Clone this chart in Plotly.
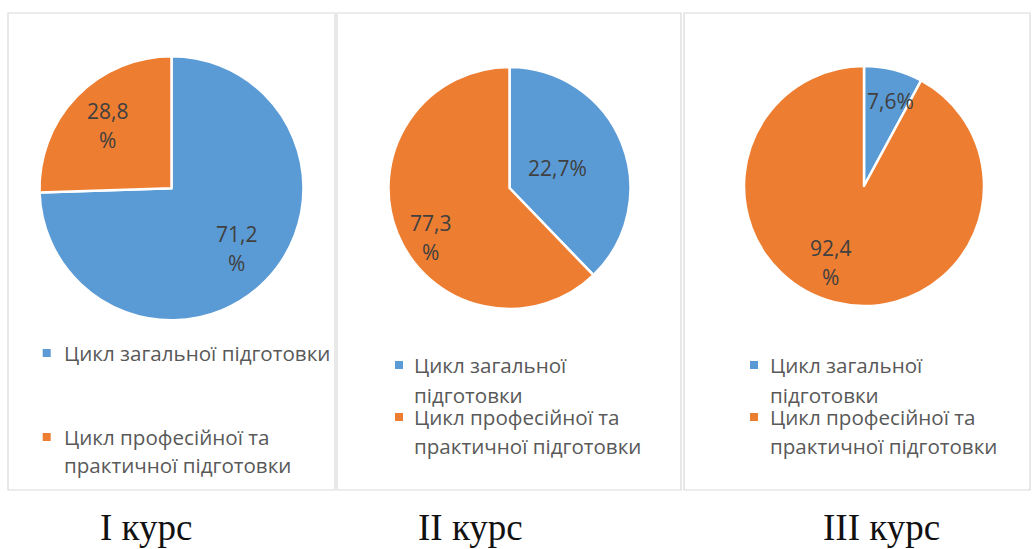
import math
import textwrap
import plotly.graph_objects as go

# ---------------- data ----------------
categories = ["Цикл загальної підготовки", "Цикл професійної та практичної підготовки"]
course_titles = ["I курс", "II курс", "III курс"]
# slice shares as drawn in the picture (angles)
shares_course1 = [74.5, 25.5]
shares_course2 = [37.8, 62.2]
shares_course3 = [7.9, 92.1]
# data labels as printed on the picture
labels_course1 = ["71,2\n%", "28,8\n%"]
labels_course2 = ["22,7%", "77,3\n%"]
labels_course3 = ["7,6%", "92,4\n%"]

shares = [shares_course1, shares_course2, shares_course3]
label_texts = [labels_course1, labels_course2, labels_course3]

# ---------------- layout constants ----------------
W, H = 1032, 549
colors = ["#5B9BD5", "#ED7D31"]
pie_centers = [(171.5, 188.3), (509.5, 188.0), (864.0, 186.0)]
pie_radius = [132, 121, 120]
panels = [(8, 13, 335, 490), (337, 13, 681, 490), (684, 13, 1030, 490)]
# label placement: (radius fraction, angle offset deg) per slice
label_place = [[(0.67, -1.6), (0.68, 0.0)],
               [(0.43, -0.6), (0.77, -10.0)],
               [(0.74, 3.4), (0.70, 9.6)]]
label_line_gap = 29
legend_marker_x = [46.7, 399, 754]
legend_text_x = [61.7, 412, 767.7]
legend_line_y = [[353, 437, 465], [365, 395, 417, 446], [365, 395, 417, 446]]
legend_wrap = [26, 21, 21]
title_x = [146, 470, 881]
title_bottom = 549

FONT = "Open Sans"


def px(x):
    return x / W


def py(y):
    return 1 - y / H


fig = go.Figure()
annotations = []
shapes = []

for i in range(3):
    cx, cy = pie_centers[i]
    R = pie_radius[i]
    fig.add_trace(go.Pie(
        labels=categories,
        values=shares[i],
        sort=False,
        direction="clockwise",
        rotation=0,
        textinfo="none",
        hoverinfo="label",
        marker=dict(colors=colors, line=dict(color="white", width=2.5)),
        domain=dict(x=[px(cx - R), px(cx + R)], y=[py(cy + R), py(cy - R)]),
        showlegend=False,
    ))

    # data labels
    total = sum(shares[i])
    start = 0.0
    for j, v in enumerate(shares[i]):
        ang = (start + v / 2) / total * 360.0
        start += v
        rf, off = label_place[i][j]
        a = math.radians(ang + off)
        lx = cx + rf * R * math.sin(a)
        ly = cy - rf * R * math.cos(a)
        lines = label_texts[i][j].split("\n")
        n = len(lines)
        for k, line in enumerate(lines):
            yy = ly + (k - (n - 1) / 2) * label_line_gap
            annotations.append(dict(
                x=px(lx), y=py(yy), xref="paper", yref="paper",
                text=line, showarrow=False, xanchor="center", yanchor="middle",
                font=dict(family=FONT, size=21, color="#404040")))

    # panel border
    x0, y0, x1, y1 = panels[i]
    shapes.append(dict(type="rect", xref="paper", yref="paper",
                       x0=px(x0), x1=px(x1), y0=py(y1), y1=py(y0),
                       line=dict(color="#D9D9D9", width=1.2), fillcolor="rgba(0,0,0,0)"))

    # legend
    ys = legend_line_y[i]
    idx = 0
    for j, cat in enumerate(categories):
        wrapped = textwrap.wrap(cat, legend_wrap[i])
        my = ys[idx]
        ms = 8
        shapes.append(dict(type="rect", xref="paper", yref="paper",
                           x0=px(legend_marker_x[i] - ms / 2), x1=px(legend_marker_x[i] + ms / 2),
                           y0=py(my + ms / 2), y1=py(my - ms / 2),
                           line=dict(width=0), fillcolor=colors[j]))
        for line in wrapped:
            annotations.append(dict(
                x=px(legend_text_x[i]), y=py(ys[idx]), xref="paper", yref="paper",
                text=line, showarrow=False, xanchor="left", yanchor="middle",
                font=dict(family=FONT, size=20.6, color="#595959")))
            idx += 1

    # course title
    annotations.append(dict(
        x=px(title_x[i]), y=py(title_bottom), xref="paper", yref="paper",
        text=course_titles[i], showarrow=False, xanchor="center", yanchor="bottom",
        borderpad=0,
        font=dict(family="Liberation Serif", size=37, color="#111111")))

fig.update_layout(
    width=W, height=H,
    margin=dict(l=0, r=0, t=0, b=0),
    paper_bgcolor="white",
    plot_bgcolor="white",
    annotations=annotations,
    shapes=shapes,
    showlegend=False,
)

fig.write_html(
    "out.html",
    config={"displayModeBar": False},
    post_script="document.body.style.margin='0';document.body.style.overflow='hidden';",
)
